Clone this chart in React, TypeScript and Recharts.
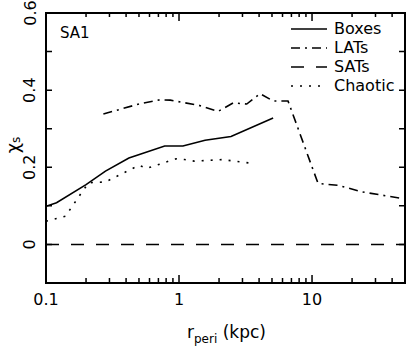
import React from 'react';
import { LineChart, Line, XAxis, YAxis } from 'recharts';

// r_peri (kpc) and chi_s values
const boxesR = [0.1, 0.12, 0.2, 0.28, 0.42, 0.51, 0.78, 1.07, 1.57, 2.46, 5.1];
const boxesChi = [0.099, 0.108, 0.155, 0.19, 0.224, 0.234, 0.255, 0.255, 0.27, 0.28, 0.328];

const latsR = [0.27, 0.51, 0.72, 0.86, 1.4, 1.97, 2.56, 3.23, 4.06, 5.1, 6.6, 11.1, 15.8, 24, 50];
const latsChi = [0.338, 0.365, 0.375, 0.374, 0.361, 0.345, 0.367, 0.364, 0.391, 0.372, 0.372, 0.158, 0.153, 0.136, 0.118];

const satsR = [0.1, 0.3, 1, 3, 10, 50];
const satsChi = [0, 0, 0, 0, 0, 0];

const chaoticR = [0.1, 0.12, 0.14, 0.19, 0.21, 0.28, 0.43, 0.5, 0.57, 0.95, 1.1, 1.3, 2.1, 3.6];
const chaoticChi = [0.06, 0.067, 0.073, 0.14, 0.16, 0.162, 0.194, 0.205, 0.197, 0.222, 0.22, 0.216, 0.22, 0.21];

const xMajor = [0.1, 1, 10];
const xTicks = [0.1, 0.2, 0.3, 0.4, 0.5, 0.6, 0.7, 0.8, 0.9, 1, 2, 3, 4, 5, 6, 7, 8, 9, 10, 20, 30, 40];
const yTicks = [-0.1, 0, 0.1, 0.2, 0.3, 0.4, 0.5, 0.6];
const yLabelled = [0, 0.2, 0.4, 0.6];

const ink = '#000';
const font = '"DejaVu Sans", sans-serif';

// chart layout
const W = 407;
const H = 349;
const M = { top: 13, right: 2, bottom: 0, left: 0 };
const Y_AXIS_W = 46;
const X_AXIS_H = 66;
const PLOT_L = M.left + Y_AXIS_W;
const PLOT_R = W - M.right;
const PLOT_T = M.top;
const PLOT_B = H - M.bottom - X_AXIS_H;

const pairs = (r: number[], chi: number[]) => r.map((v, i) => ({ r: v, chi: chi[i] }));

const series = [
  { name: 'Boxes', data: pairs(boxesR, boxesChi), dash: undefined },
  { name: 'LATs', data: pairs(latsR, latsChi), dash: '9 5 2 5' },
  { name: 'SATs', data: pairs(satsR, satsChi), dash: '13 12' },
  { name: 'Chaotic', data: pairs(chaoticR, chaoticChi), dash: '2 7' },
];

// bottom tick also mirrors itself onto the top edge of the frame
const BottomTick = ({ x, y, payload }: any) => {
  const major = xMajor.includes(payload.value);
  const lb = major ? 8 : 5;
  const lt = major ? 8 : 4;
  return (
    <g>
      <path
        d={`M${x},${y}V${y - lb}M${x},${PLOT_T}V${PLOT_T + lt}`}
        fill="none"
        stroke={ink}
        strokeWidth={1.5}
      />
      {major && (
        <text x={x} y={y + 22} textAnchor="middle" fontSize={16} fontFamily={font} fill={ink}>
          {payload.value}
        </text>
      )}
    </g>
  );
};

// left tick also mirrors itself onto the right edge
const LeftTick = ({ x, y, payload }: any) => {
  const lab = yLabelled.includes(payload.value);
  return (
    <g>
      <path
        d={`M${x},${y}H${x + 6}M${PLOT_R},${y}H${PLOT_R - 6}`}
        fill="none"
        stroke={ink}
        strokeWidth={1.5}
      />
      {lab && (
        <text
          x={x - 16}
          y={y}
          transform={`rotate(-90 ${x - 16} ${y})`}
          textAnchor="middle"
          dominantBaseline="central"
          fontSize={16}
          fontFamily={font}
          fill={ink}
        >
          {payload.value}
        </text>
      )}
    </g>
  );
};

const LegendBox = () => (
  <div style={{ position: 'absolute', left: 291, top: 19, fontFamily: font, fontSize: 16, color: ink }}>
    {series.map((s) => (
      <div key={s.name} style={{ display: 'flex', alignItems: 'center', height: 19 }}>
        <svg width={36} height={10} style={{ marginRight: 7 }}>
          <line x1={0} x2={36} y1={5} y2={5} stroke={ink} strokeWidth={1.6} strokeDasharray={s.dash} />
        </svg>
        <span>{s.name}</span>
      </div>
    ))}
  </div>
);

export default function App() {
  return (
    <div style={{ position: 'absolute', left: 0, top: 0 }}>
      <LineChart width={W} height={H} margin={M}>
        <XAxis
          xAxisId="b"
          dataKey="r"
          type="number"
          scale="log"
          domain={[0.1, 50]}
          allowDataOverflow
          ticks={xTicks}
          interval={0}
          tickSize={0}
          tickMargin={0}
          tick={<BottomTick />}
          axisLine={false}
          height={X_AXIS_H}
        />
        <YAxis
          yAxisId="l"
          type="number"
          domain={[-0.1, 0.6]}
          allowDataOverflow
          ticks={yTicks}
          interval={0}
          tickSize={0}
          tickMargin={0}
          tick={<LeftTick />}
          axisLine={false}
          width={Y_AXIS_W}
        />
        {series.map((s) => (
          <Line
            key={s.name}
            name={s.name}
            data={s.data}
            dataKey="chi"
            xAxisId="b"
            yAxisId="l"
            type="linear"
            stroke={ink}
            strokeWidth={1.6}
            strokeDasharray={s.dash}
            dot={false}
            isAnimationActive={false}
          />
        ))}
        <rect
          x={PLOT_L}
          y={PLOT_T}
          width={PLOT_R - PLOT_L}
          height={PLOT_B - PLOT_T}
          fill="none"
          stroke={ink}
          strokeWidth={2}
        />
        <text x={60} y={38} fontSize={15} fontFamily={font} fill={ink}>
          SA1
        </text>
        <text x={187} y={338} fontSize={17} fontFamily={font} fill={ink}>
          r
          <tspan fontSize={12} dy={5}>peri</tspan>
          <tspan dy={-5} fontSize={17}>{'  (kpc)'}</tspan>
        </text>
        <text
          x={12}
          y={145}
          transform="rotate(-90 12 145)"
          textAnchor="middle"
          dominantBaseline="central"
          fontSize={18}
          fontFamily={font}
          fill={ink}
        >
          χ<tspan fontSize={12} dy={4}>s</tspan>
        </text>
      </LineChart>
      <LegendBox />
    </div>
  );
}
